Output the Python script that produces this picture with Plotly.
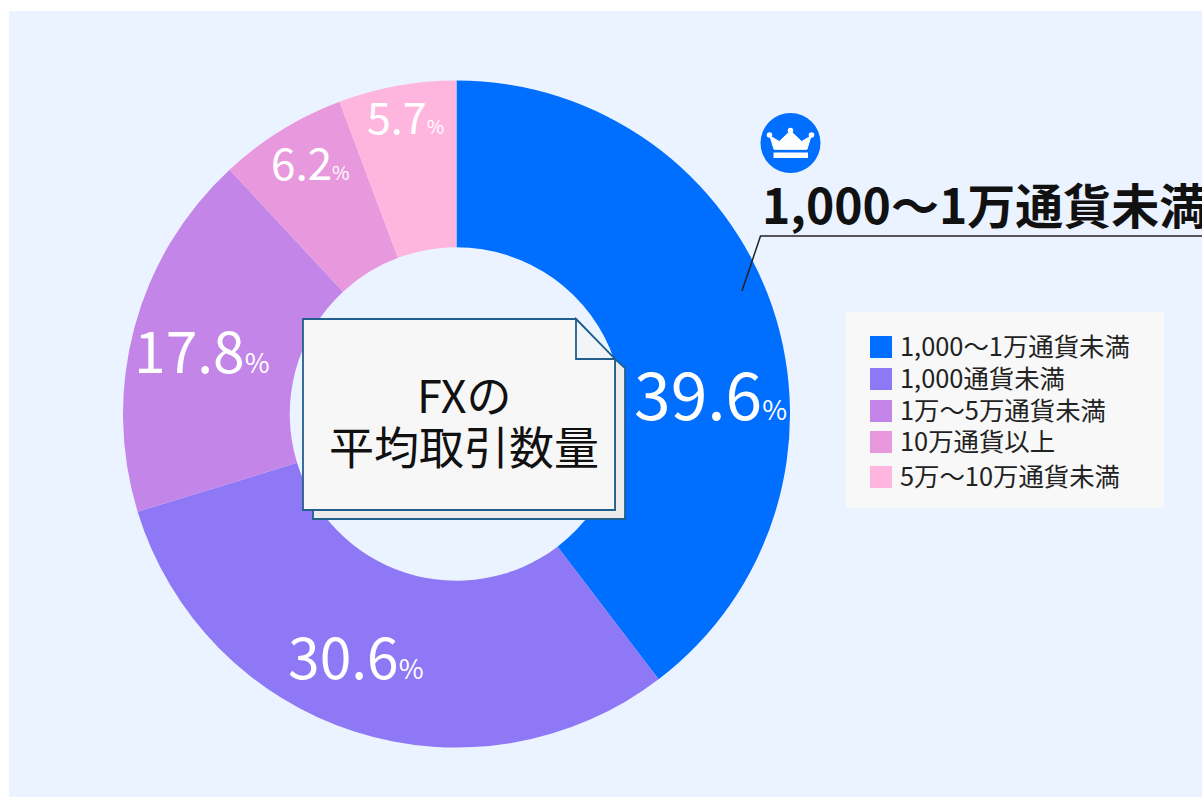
import plotly.graph_objects as go

categories = ["1,000～1万通貨未満", "1,000通貨未満", "1万～5万通貨未満", "10万通貨以上", "5万～10万通貨未満"]
values = [39.6, 30.6, 17.8, 6.2, 5.7]
colors = ["#006EFF", "#8F78F5", "#C385E8", "#E899DE", "#FFB6DE"]
W, H = 1202, 798
FONT = "Noto Sans CJK JP"

def X(p): return p / W
def Y(p): return 1 - p / H

def poly(pts, fill, line=None, lw=0, layer="above"):
    path = "M" + " L".join(f"{X(a):.5f},{Y(b):.5f}" for a, b in pts) + " Z"
    return dict(type="path", xref="paper", yref="paper", path=path, fillcolor=fill, layer=layer,
                line=dict(color=line or fill, width=lw))

def rect(x0, y0, x1, y1, fill, layer="above"):
    return dict(type="rect", xref="paper", yref="paper", x0=X(x0), x1=X(x1), y0=Y(y0), y1=Y(y1),
                fillcolor=fill, line=dict(width=0), layer=layer)

def dot(cx, cy, r, fill):
    return dict(type="circle", xref="paper", yref="paper", x0=X(cx - r), x1=X(cx + r), y0=Y(cy - r), y1=Y(cy + r),
                fillcolor=fill, line=dict(width=0))

def text(x, y, s, size, color="#111111", anchor="center", bold=False):
    return dict(xref="paper", yref="paper", x=X(x), y=Y(y), text=f"<b>{s}</b>" if bold else s, showarrow=False,
                xanchor=anchor, yanchor="middle", font=dict(size=size, color=color, family=FONT),
                borderpad=0, borderwidth=0)

fig = go.Figure(go.Pie(
    labels=categories, values=values, sort=False, direction="clockwise", rotation=0, hole=0.5,
    marker=dict(colors=colors, line=dict(width=0)), textinfo="none", showlegend=False, hoverinfo="label+value",
    domain=dict(x=[X(123), X(790)], y=[Y(748), Y(80)]),
))

NOTE = "#235F8C"
shapes = [rect(9, 11, 1202, 797, "#EAF3FF", layer="below")]
# note card
shapes.append(poly([(313, 510), (313, 519), (625, 519), (625, 368), (615, 359), (615, 510)], "#ECECEC", NOTE, 1.8))
shapes.append(poly([(303, 319), (576, 319), (615, 359), (615, 510), (303, 510)], "#F7F7F7", NOTE, 1.8))
shapes.append(poly([(576, 319), (576, 359), (615, 359)], "#F2F5F8", NOTE, 1.8))
# crown badge
shapes.append(dot(790.5, 143, 30, "#006EFF"))
shapes.append(poly([(774, 149.3), (770, 136), (779.3, 141.5), (790.5, 131), (801.7, 141.5), (811, 136), (807, 149.3)], "#FFFFFF", "#FFFFFF", 1))
shapes.append(dot(769.5, 135, 2.8, "#FFFFFF"))
shapes.append(dot(790.5, 130.5, 2.8, "#FFFFFF"))
shapes.append(dot(811.5, 135, 2.8, "#FFFFFF"))
shapes.append(rect(773.5, 152.5, 808, 158, "#FFFFFF"))
# leader line
shapes.append(dict(type="path", xref="paper", yref="paper",
                   path=f"M{X(742):.5f},{Y(291):.5f} L{X(760.5):.5f},{Y(236):.5f} L{X(1202):.5f},{Y(236):.5f}",
                   line=dict(color="#222222", width=1.5)))
# legend
shapes.append(rect(846, 312, 1164, 508, "#F8F8F8"))
legend_y = [347, 379, 411, 442, 477]
for yy, c in zip(legend_y, colors):
    shapes.append(rect(870, yy - 11, 892, yy + 11, c))

ann = []
ann.append(text(463.5, 394, "FXの", 45))
ann.append(text(464, 445, "平均取引数量", 45))
ann.append(text(762, 203, categories[0], 48, anchor="left", bold=True))
for yy, lab in zip(legend_y, categories):
    ann.append(text(899.5, yy - 2, lab, 25.4, color="#222222", anchor="left"))

label_pos = [(710.5, 391, 66, 27), (356, 654, 57, 27), (202, 348, 57, 27), (310, 161, 44, 19), (405, 115, 43, 19)]
for v, (x, y, big, small) in zip(values, label_pos):
    ann.append(text(x, y, f'{v}<span style="font-size:{small}px">%</span>', big, color="#FFFFFF"))

fig.update_layout(width=W, height=H, margin=dict(l=0, r=0, t=0, b=0, autoexpand=False), paper_bgcolor="#FFFFFF",
                  shapes=shapes, annotations=ann, font=dict(family=FONT), showlegend=False)
fig.write_html("out.html", post_script="document.body.style.margin='0';", config={"displayModeBar": False})
